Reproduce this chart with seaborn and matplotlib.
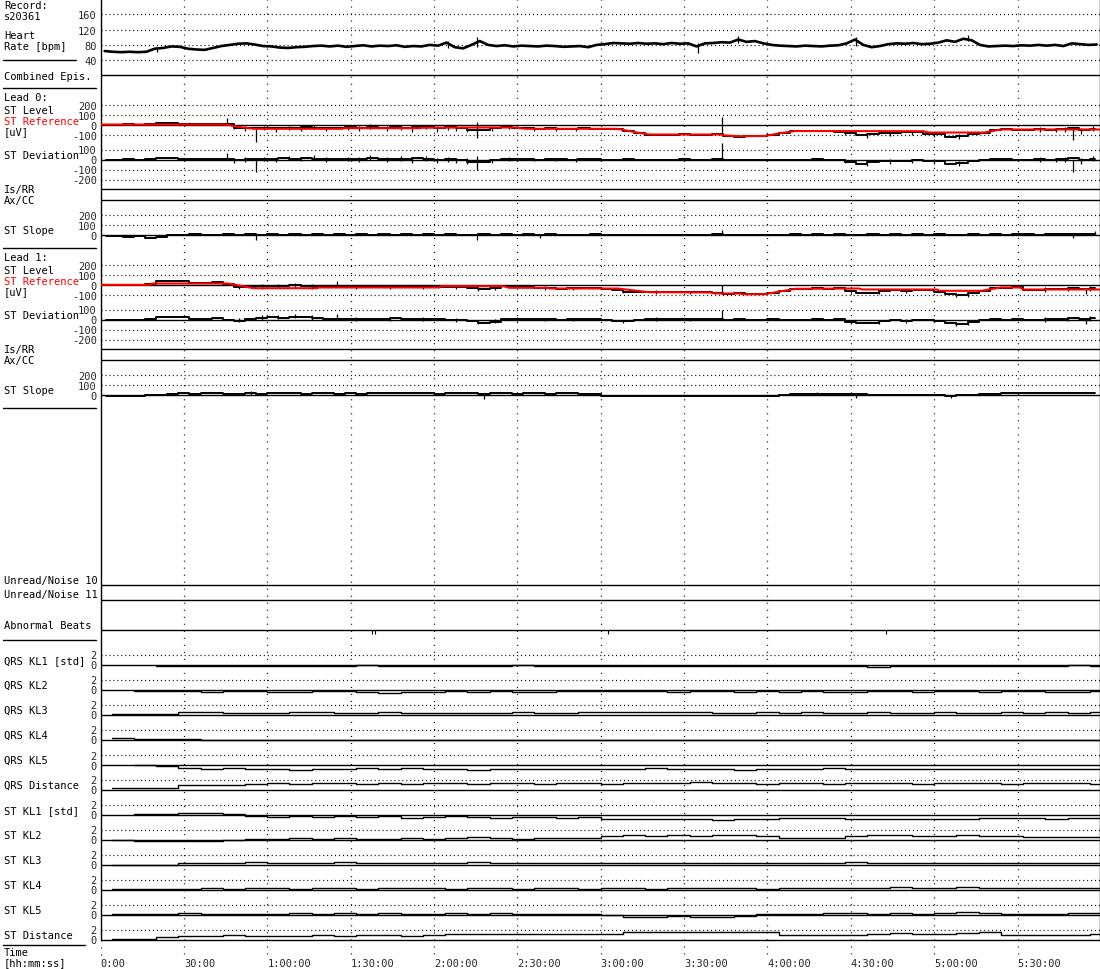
import numpy as np
import matplotlib
matplotlib.use("Agg")
import matplotlib.pyplot as plt
import seaborn as sns

# ---------------- data ----------------
record_id = "s20361"
time_ticks = [0, 30, 60, 90, 120, 150, 180, 210, 240, 270, 300, 330]
time_labels = ["0:00", "30:00", "1:00:00", "1:30:00", "2:00:00", "2:30:00",
               "3:00:00", "3:30:00", "4:00:00", "4:30:00", "5:00:00", "5:30:00"]
T_MAX = 359.5  # minutes shown

# heart rate [bpm], one value every 3 minutes
hr_bpm = [64, 62, 61, 62, 61, 62, 70, 72, 76, 75, 70, 68, 67, 72, 77, 80, 83, 84, 81, 77,
          76, 73, 72, 74, 75, 77, 78, 76, 78, 75, 77, 79, 76, 78, 77, 79, 75, 77, 76, 80,
          78, 86, 74, 71, 80, 90, 80, 77, 79, 76, 78, 77, 76, 78, 77, 75, 76, 77, 74, 80,
          82, 85, 84, 83, 85, 83, 84, 82, 85, 83, 84, 76, 84, 85, 87, 86, 94, 88, 90, 84,
          80, 78, 77, 76, 78, 77, 76, 78, 79, 84, 94, 80, 74, 77, 82, 84, 83, 85, 82, 83,
          86, 92, 88, 96, 92, 80, 76, 77, 78, 77, 79, 78, 80, 78, 80, 77, 84, 82, 80, 81]
hr_spike_min = [20.5, 125, 135.5, 215, 229.5, 272, 312]
hr_spike_lo = [62, 72, 75, 60, 85, 76, 90]
hr_spike_hi = [74, 90, 100, 84, 102, 101, 105]

# ST traces [uV], one value every 4 minutes
lead0_level = [0, -2, 2, 0, 5, 15, 18, 10, 5, 2, 3, 3, -30, -35, -33, -38, -31, -35, -23, -33,
               -38, -35, -27, -32, -22, -31, -27, -35, -23, -23, -37, -26, -36, -50, -55, -35,
               -25, -30, -37, -43, -38, -41, -43, -39, -41, -45, -43, -62, -86, -101, -104,
               -100, -98, -102, -100, -99, -113, -120, -118, -119, -100, -86, -65, -67, -63,
               -69, -71, -86, -107, -92, -82, -82, -77, -75, -90, -92, -120, -115, -90, -80,
               -58, -45, -50, -52, -48, -50, -45, -35, -55, -42]
lead0_dev = [0, -2, 2, 0, 5, 15, 18, 10, 5, 2, 3, 8, -5, 5, 10, 5, 12, 8, 20, 10, 5, 8, 10, 5,
             15, 6, 10, 2, 14, 10, -5, 6, -5, -20, -25, -5, 5, 3, 6, 0, 5, 2, 0, 4, 2, -2, 0,
             2, 0, -1, -4, 0, 2, -2, 0, 1, -2, -3, -2, -4, 0, -5, 0, -2, 3, -3, -5, -20, -40,
             -25, -15, -15, -10, -8, -10, -12, -40, -35, -10, 0, 2, 5, 0, -2, 2, 0, 5, 15, -5, 8]
lead0_slope = [-15, -18, -20, -18, -30, -25, -5, -3, 2, -2, 0, 3, -5, 5, -4, 3, -2, 4, -3, 2,
               -4, 3, -2, 5, -3, 2, -5, 4, -2, 3, -4, 2, -3, -6, 4, -2, 3, -4, 2, -3, 5, -2, 0,
               -3, 2, -4, -2, -5, -3, -4, -2, -5, -3, -2, -4, 2, -6, -3, -5, -2, 0, -3, 2, -2,
               3, -1, 2, -3, -5, 2, -3, 3, -2, 4, -3, 2, -4, -2, 3, -2, 4, -3, 5, 2, -2, 4, 3,
               8, 5, 10]
lead0_ref_min = [0, 45, 50, 55, 87, 87.5, 115, 115.5, 135, 149, 153, 186, 192, 197.5, 223, 225,
                 230, 239, 245, 250, 296, 298, 318, 321, 324, 359.5]
lead0_ref_uv = [0, 0, -25, -43, -43, -37, -37, -33, -30, -30, -43, -43, -75, -100, -100, -110,
                -117, -115, -85, -65, -67, -80, -80, -65, -50, -50]
# short noise spikes on the lead 0 traces
lead0_spike_min = [45.5, 56, 135.5, 223.5, 350,
                   48, 52, 59, 63, 68, 72, 77, 81, 89, 93, 97, 103, 108, 112, 117, 121, 125,
                   128, 132, 141, 147, 156, 164, 171, 268, 276, 284, 292, 300, 309, 338, 344,
                   347, 353, 357]
lead0_level_spike_lo = [0, -170, -130, -100, -150,
                        -45, -60, -55, -70, -50, -60, -45, -65, -55, -60, -40, -60, -55, -70,
                        -45, -70, -55, -65, -75, -60, -45, -60, -60, -65, -100, -130, -110,
                        -105, -120, -140, -70, -75, -70, -90, -65]
lead0_level_spike_hi = [63, -40, 30, 77, -40,
                        0, -10, -15, -25, -10, -20, 0, -20, -10, -15, 5, -15, -5, -15, 0, -15,
                        -5, -15, -20, -20, -5, -25, -25, -30, -60, -80, -65, -60, -75, -95,
                        -25, -30, -20, -30, -15]
lead0_dev_spike_lo = [0, -120, -100, 0, -120,
                      -30, -27, -12, -27, -7, -17, -2, -22, -18, -23, -3, -23, -18, -33, -12,
                      -37, -23, -33, -44, -30, -15, -17, -17, -22, -34, -63, -43, -38, -40,
                      -60, -20, -25, -20, -40, -15]
lead0_dev_spike_hi = [63, 0, 40, 170, 0,
                      15, 23, 28, 18, 33, 23, 43, 23, 27, 22, 42, 22, 32, 22, 33, 18, 27, 17,
                      11, 10, 25, 18, 18, 13, 6, -13, 2, 7, 5, -15, 25, 20, 30, 20, 35]
lead0_slope_spike_min = [56, 135.5, 158, 223.5, 330, 350, 358]
lead0_slope_spike_lo = [-50, -55, -35, 0, 0, -30, 0]
lead0_slope_spike_hi = [0, 0, 0, 50, 30, 0, 35]

lead1_level = [-8, -7, -9, -8, 8, 38, 40, 32, 20, 18, 22, 5, -20, -27, -17, -12, -19, -7, -15,
               -22, -25, -22, -27, -20, -24, -26, -18, -25, -22, -20, -27, -25, -22, -32, -47,
               -37, -15, -28, -25, -31, -35, -40, -37, -38, -35, -42, -52, -70, -72, -74, -73,
               -78, -72, -76, -70, -85, -90, -88, -97, -99, -81, -63, -45, -40, -38, -40, -37,
               -60, -85, -80, -60, -58, -60, -56, -58, -78, -98, -108, -88, -63, -37, -30, -27,
               -53, -50, -45, -47, -35, -40, -32]
lead1_dev = [-5, -4, -6, -5, 5, 28, 30, 22, 10, 8, 12, -5, -10, 5, 20, 25, 18, 30, 22, 15, 5,
             8, 3, 10, 6, 4, 12, 5, 8, 10, 3, -8, -5, -15, -30, -20, 10, 5, 8, 2, 5, 0, 3, 2, 5,
             -2, -12, -15, -5, 3, 5, 2, 8, 4, 10, 5, 0, 2, 0, -2, 1, 0, -2, 0, 2, 0, 3, -20,
             -35, -30, -10, -8, -10, -6, -8, -15, -35, -45, -25, -5, 2, 0, 3, -3, 0, 5, 3, 15,
             10, 18]
lead1_slope = [-10, -12, -10, -11, -9, -5, 8, 12, 10, 15, 12, 8, 10, 14, 9, 13, 11, 15, 10, 12,
               14, 9, 12, 10, 13, 15, 11, 14, 12, 16, 10, 13, 15, 11, 8, 12, 14, 10, 13, 12, 9,
               11, 13, 10, 8, -10, -12, -14, -11, -13, -15, -12, -14, -13, -15, -10, -14, -16,
               -13, -15, -11, -5, 5, 8, 6, 7, 5, 8, 2, -6, -8, -5, -7, -9, -6, -8, -10, -7, -5,
               5, 10, 12, 14, 11, 13, 15, 12, 14, 16, 13]
lead1_ref_min = [0, 18, 18.5, 46, 55, 78, 78.5, 122, 122.5, 145, 147, 161, 161.5, 186, 197.5,
                 220, 221, 230, 231, 239, 250, 273, 274, 301, 302, 317, 324, 331, 332, 359.5]
lead1_ref_uv = [-3, -3, 10, 10, -37, -37, -30, -30, -17, -17, -33, -33, -40, -40, -77, -80,
                -90, -90, -97, -97, -43, -40, -50, -50, -63, -63, -30, -30, -50, -50]
lead1_spike_min = [85, 223.5, 354.5,
                   50, 58, 64, 70, 76, 92, 104, 116, 128, 136, 142, 150, 160, 170, 188, 200,
                   212, 270, 280, 290, 308, 312, 340, 348, 356]
lead1_level_spike_lo = [-25, -90, -90,
                        -45, -40, -35, -25, -40, -40, -40, -45, -40, -60, -55, -45, -50, -55,
                        -80, -90, -95, -85, -95, -80, -125, -120, -70, -65, -60]
lead1_level_spike_hi = [40, 0, -30,
                        0, 5, 10, 15, 5, -5, -5, 0, 0, -20, -10, -10, -15, -20, -45, -55, -60,
                        -45, -50, -40, -85, -80, -25, -20, -10]
lead1_dev_spike_lo = [5, 0, -40,
                      -25, -3, 2, 12, -3, -10, -10, -15, -23, -43, -38, -12, -17, -15, -35,
                      -13, -16, -45, -45, -30, -62, -57, -20, -15, -10]
lead1_dev_spike_hi = [60, 100, 0,
                      20, 42, 47, 52, 42, 25, 25, 30, 17, -3, 7, 23, 18, 20, 0, 22, 19, -5, 0,
                      10, -22, -17, 25, 30, 40]
lead1_slope_spike_min = [54, 138, 258, 272, 306, 330]
lead1_slope_spike_lo = [0, -40, 0, -30, -30, 0]
lead1_slope_spike_hi = [35, 0, 25, 0, 0, 30]

abnormal_beat_min = [97.7, 98.8, 182.6, 282.5]

# KL traces [std], one value every 8 minutes
qrs_kl1 = [np.nan, np.nan, -0.2, -0.25, -0.2, -0.3, -0.25, -0.2, -0.3, -0.25, -0.2, -0.15,
           -0.25, -0.2, -0.3, -0.2, -0.25, -0.2, -0.15, -0.2, -0.25, -0.2, -0.3, -0.25, -0.2,
           -0.25, -0.2, -0.3, -0.25, -0.2, -0.25, -0.2, -0.3, -0.25, -0.4, -0.3, -0.25, -0.2,
           -0.3, -0.25, -0.2, -0.25, -0.2, -0.15, -0.2]
qrs_kl2 = [np.nan, -0.2, -0.2, -0.25, -0.4, -0.3, -0.35, -0.5, -0.4, -0.35, -0.3, -0.4, -0.6,
           -0.45, -0.5, -0.35, -0.4, -0.3, -0.45, -0.4, -0.35, -0.3, -0.35, -0.25, -0.3, -0.4,
           -0.35, -0.3, -0.45, -0.35, -0.4, -0.3, -0.4, -0.55, -0.35, -0.3, -0.4, -0.35, -0.3,
           -0.4, -0.35, -0.3, -0.4, -0.5, -0.3]
qrs_kl3 = [0.1, 0.15, 0.2, 0.5, 0.45, 0.35, 0.4, 0.3, 0.45, 0.5, 0.4, 0.35, 0.55, 0.4, 0.3,
           0.35, 0.4, 0.3, 0.45, 0.4, 0.35, 0.5, 0.45, 0.5, 0.55, 0.45, 0.5, 0.4, 0.35, 0.45,
           0.4, 0.5, 0.35, 0.4, 0.45, 0.35, 0.4, 0.5, 0.35, 0.4, 0.45, 0.35, 0.5, 0.4, 0.45]
qrs_kl4 = [0.25, 0.2, 0.2, 0.05, -0.05, -0.1, -0.05, 0, -0.1, -0.05, -0.1, 0, -0.05, -0.1,
           -0.05, 0, -0.1, -0.05, -0.1, -0.05, 0, -0.1, -0.05, -0.05, -0.1, 0, -0.05, -0.1,
           -0.05, 0, -0.1, -0.15, -0.05, -0.1, 0, -0.05, -0.1, -0.05, 0, -0.1, -0.05, -0.1,
           -0.05, 0, -0.05]
qrs_kl5 = [np.nan, -0.15, -0.2, -0.6, -0.8, -0.7, -0.9, -0.85, -1.0, -0.9, -0.8, -0.7, -0.95,
           -0.6, -0.8, -0.9, -1.0, -0.85, -0.9, -0.8, -0.95, -0.85, -0.8, -0.9, -0.75, -0.8,
           -0.9, -0.85, -1.0, -0.8, -0.85, -0.9, -0.75, -0.8, -0.9, -0.85, -0.8, -0.95, -0.85,
           -0.8, -0.9, -0.85, -0.8, -0.95, -0.9]
qrs_distance = [0.25, 0.3, 0.3, 0.9, 1.0, 0.95, 1.1, 1.3, 1.2, 1.35, 1.25, 1.1, 1.4, 1.2, 1.3,
                1.25, 1.2, 1.3, 1.35, 1.2, 1.25, 1.3, 1.2, 1.25, 1.35, 1.3, 1.45, 1.3, 1.25,
                1.2, 1.3, 1.25, 1.2, 1.35, 1.3, 1.25, 1.2, 1.3, 1.25, 1.35, 1.2, 1.3, 1.25,
                1.3, 1.2]
st_kl1 = [np.nan, 0.15, 0.2, 0.25, 0.3, 0.2, -0.3, -0.4, -0.2, -0.5, -0.35, -0.4, -0.3, -0.6,
          -0.5, -0.3, -0.5, -0.6, -0.4, -0.5, -0.6, -0.55, -0.9, -0.8, -0.85, -0.9, -0.8, -1.0,
          -0.85, -0.9, -0.7, -0.75, -0.7, -0.9, -0.95, -0.85, -0.9, -0.8, -0.9, -0.7, -0.75,
          -0.7, -0.8, -0.6, -0.7]
st_kl2 = [-0.1, -0.2, -0.3, -0.35, -0.3, -0.1, 0.2, 0.15, 0.25, 0.1, 0.3, 0.2, 0.15, 0.35,
          0.2, 0.3, 0.6, 0.25, 0.2, 0.3, 0.25, 0.35, 0.8, 0.85, 0.75, 0.9, 0.8, 1.0, 0.85,
          0.7, 0.4, 0.3, 0.35, 0.8, 0.9, 0.85, 0.8, 0.75, 1.0, 0.8, 0.65, 0.55, 0.5, 0.45, 0.5]
st_kl3 = [0.0, 0.0, 0.0, 0.3, 0.35, 0.3, 0.5, 0.4, 0.3, 0.35, 0.45, 0.3, 0.4, 0.35, 0.3, 0.4,
          0.5, 0.35, 0.3, 0.25, 0.35, 0.3, 0.3, 0.25, 0.3, 0.35, 0.3, 0.4, 0.35, 0.3, 0.25,
          0.3, 0.35, 0.5, 0.3, 0.35, 0.3, 0.25, 0.3, 0.35, 0.3, 0.4, 0.35, 0.3, 0.4]
st_kl4 = [0.1, 0.15, 0.05, 0.1, 0.25, 0.2, 0.3, 0.25, 0.2, 0.3, 0.25, 0.2, 0.35, 0.3, 0.25,
          0.2, 0.3, 0.25, 0.2, 0.3, 0.25, 0.2, 0.25, 0.3, 0.2, 0.25, 0.35, 0.3, 0.25, 0.2, 0.3,
          0.25, 0.35, 0.4, 0.3, 0.5, 0.3, 0.35, 0.45, 0.3, 0.25, 0.35, 0.3, 0.4, 0.3]
st_kl5 = [0.1, 0.15, 0.2, 0.25, 0.2, 0.15, 0.2, 0.1, 0.25, 0.2, 0.3, 0.2, 0.25, 0.15, 0.2,
          0.25, 0.2, 0.3, 0.2, 0.15, 0.2, 0.1, 0.0, -0.4, -0.45, -0.35, -0.5, -0.4, -0.3, 0.1,
          0.15, 0.2, 0.25, 0.3, 0.2, 0.35, 0.2, 0.3, 0.45, 0.25, 0.2, 0.15, 0.2, 0.25, 0.3]
st_distance = [0.2, 0.2, 0.5, 0.75, 0.8, 0.85, 0.8, 0.75, 0.8, 0.85, 0.8, 0.9, 0.85, 0.8, 0.9,
               1.1, 1.2, 1.1, 1.05, 1.15, 1.1, 1.05, 1.1, 1.5, 1.45, 1.5, 1.55, 1.5, 1.6, 1.45,
               1.0, 0.95, 0.9, 1.0, 1.2, 1.25, 1.15, 1.2, 1.4, 1.6, 0.95, 0.9, 1.0, 0.95, 1.1]

kl_rows = [("QRS KL1 [std]", qrs_kl1), ("QRS KL2", qrs_kl2), ("QRS KL3", qrs_kl3),
           ("QRS KL4", qrs_kl4), ("QRS KL5", qrs_kl5), ("QRS Distance", qrs_distance),
           ("ST KL1 [std]", st_kl1), ("ST KL2", st_kl2), ("ST KL3", st_kl3),
           ("ST KL4", st_kl4), ("ST KL5", st_kl5), ("ST Distance", st_distance)]

# ---------------- layout (pixels) ----------------
FIG_W, FIG_H = 1100, 970
PLOT_L, PLOT_W = 100.5, 999.0
FS = 7.5

sns.set_style("white")
plt.rcParams["font.family"] = ["DejaVu Sans Mono", "DejaVu Sans"]
plt.rcParams["lines.scale_dashes"] = False

H_DOT = (0, (0.75, 2.1))
V_DOT = (0, (0.75, 4.3))

fig = plt.figure(figsize=(FIG_W / 100, FIG_H / 100), dpi=100)

# background: time grid and borders
bg = fig.add_axes([PLOT_L / FIG_W, 1 - 958 / FIG_H, PLOT_W / FIG_W, 958 / FIG_H])
bg.set_xlim(0, T_MAX)
bg.set_ylim(958, 0)
bg.vlines(time_ticks[1:], 0, 958, colors="black", linestyles=V_DOT, lw=0.9)
bg.vlines([0], 941, 958, colors="black", linestyles=V_DOT, lw=0.9)
bg.vlines([0, T_MAX], 0, 941, colors="black", lw=1.0, clip_on=False)
for s in bg.spines.values():
    s.set_visible(False)
bg.set_yticks([])
bg.set_xticks(time_ticks, time_labels)
bg.tick_params(axis="x", length=0, pad=1.0, labelsize=FS)
for lab in bg.get_xticklabels():
    lab.set_horizontalalignment("left")


def channel(top, bottom, zero_px, px_per_unit, ref=0.0):
    ax = fig.add_axes([PLOT_L / FIG_W, 1 - bottom / FIG_H,
                       PLOT_W / FIG_W, (bottom - top) / FIG_H])
    ax.set_xlim(0, T_MAX)
    ax.set_ylim(ref - (bottom - zero_px) / px_per_unit,
                ref + (zero_px - top) / px_per_unit)
    ax.patch.set_visible(False)
    for s in ax.spines.values():
        s.set_visible(False)
    ax.set_xticks([])
    ax.set_yticks([])
    return ax


def grid(ax, ticks, solid=0):
    ax.set_yticks(ticks, [str(t) for t in ticks])
    ax.tick_params(axis="y", length=0, pad=2.6, labelsize=FS)
    for t in ticks:
        if t == solid:
            ax.axhline(t, color="black", lw=1.0)
        else:
            ax.axhline(t, color="black", lw=0.9, ls=H_DOT)


def trace(ax, x, y, lw=1.4, color="black", style="steps-mid"):
    sns.lineplot(x=x, y=y, ax=ax, color=color, lw=lw, drawstyle=style,
                 estimator=None, sort=False, legend=False)


def spikes(ax, x, lo, hi):
    ax.vlines(x, lo, hi, colors="black", lw=0.9)


# heart rate
hr_min = 1.5 + 3 * np.arange(len(hr_bpm))
ax = channel(0, 75, 45.9, 15.3 / 40, ref=80)
grid(ax, [160, 120, 80, 40], solid=None)
trace(ax, hr_min, hr_bpm, lw=1.9, style="default")
spikes(ax, hr_spike_min, hr_spike_lo, hr_spike_hi)

# combined episodes
ax = channel(68, 82, 75.5, 1)
ax.axhline(0, color="black", lw=1.0)

leads = [
    (0, lead0_level, lead0_dev, lead0_slope, lead0_ref_min, lead0_ref_uv,
     lead0_spike_min, lead0_level_spike_lo, lead0_level_spike_hi,
     lead0_dev_spike_lo, lead0_dev_spike_hi,
     lead0_slope_spike_min, lead0_slope_spike_lo, lead0_slope_spike_hi),
    (160, lead1_level, lead1_dev, lead1_slope, lead1_ref_min, lead1_ref_uv,
     lead1_spike_min, lead1_level_spike_lo, lead1_level_spike_hi,
     lead1_dev_spike_lo, lead1_dev_spike_hi,
     lead1_slope_spike_min, lead1_slope_spike_lo, lead1_slope_spike_hi),
]
for (o, level, dev, slope, ref_t, ref_v, sp_t, lv_lo, lv_hi, dv_lo, dv_hi,
     ss_t, ss_lo, ss_hi) in leads:
    st_min = 2 + 4 * np.arange(len(level))
    # ST level + reference
    ax = channel(89 + o, 146 + o, 125.5 + o, 0.1)
    grid(ax, [200, 100, 0, -100])
    trace(ax, st_min, level)
    spikes(ax, sp_t, lv_lo, lv_hi)
    trace(ax, ref_t, ref_v, lw=1.5, color="#ff0000", style="default")
    # ST deviation
    ax = channel(130 + o, 187 + o, 160.5 + o, 0.1)
    grid(ax, [100, 0, -100, -200])
    trace(ax, 2 + 4 * np.arange(len(dev)), dev)
    spikes(ax, sp_t, dv_lo, dv_hi)
    # Is/RR and Ax/CC
    for base in (189.5 + o, 200.5 + o):
        ax = channel(base - 4, base + 4, base, 1)
        ax.axhline(0, color="black", lw=1.0)
    # ST slope
    ax = channel(205 + o, 246 + o, 235.5 + o, 0.1)
    grid(ax, [200, 100, 0])
    trace(ax, 2 + 4 * np.arange(len(slope)), slope)
    spikes(ax, ss_t, ss_lo, ss_hi)

# unread / noise and abnormal beats
for base in (585.5, 600.5):
    ax = channel(base - 5, base + 5, base, 1)
    ax.axhline(0, color="black", lw=1.0)
ax = channel(620, 640, 630.5, 1)
ax.axhline(0, color="black", lw=1.0)
ax.vlines(abnormal_beat_min, -4, 0, colors="black", lw=0.8)

# KL rows (last value held to the right edge)
for i, (name, vals) in enumerate(kl_rows):
    base = 665.5 + 25 * i
    ax = channel(base - 14, base + 9, base, 5)
    grid(ax, [2, 0])
    kl_min = np.append(4 + 8 * np.arange(len(vals)), T_MAX)
    trace(ax, kl_min, list(vals) + [vals[-1]], lw=1.0, style="steps-post")

# left-hand labels and separators
lab = fig.add_axes([0, 0, 1, 1])
lab.set_xlim(0, FIG_W)
lab.set_ylim(FIG_H, 0)
lab.axis("off")

texts = [("Record:", 6), (record_id, 16.5), ("Heart", 36), ("Rate [bpm]", 47),
         ("Combined Epis.", 76.5),
         ("Unread/Noise 10", 581), ("Unread/Noise 11", 595.5), ("Abnormal Beats", 626),
         ("Time", 953), ("[hh:mm:ss]", 963)]
for o, n in ((0, 0), (160, 1)):
    texts += [(f"Lead {n}:", 98 + o), ("ST Level", 111 + o), ("[uV]", 132 + o),
              ("ST Deviation", 156 + o), ("Is/RR", 190 + o), ("Ax/CC", 201 + o),
              ("ST Slope", 231 + o)]
    lab.text(4, 122 + o, "ST Reference", color="#ff0000", fontsize=FS, va="center")
for i, (name, _) in enumerate(kl_rows):
    texts.append((name, 661 + 25 * i))
for s, y in texts:
    lab.text(4, y, s, fontsize=FS, va="center", color="black")

for y, x1 in ((60.5, 76), (88.5, 96), (248.5, 96), (408.5, 96), (640.5, 96), (945.5, 85)):
    lab.plot([3, x1], [y, y], color="black", lw=1.0)

fig.savefig("out.png", dpi=100)
